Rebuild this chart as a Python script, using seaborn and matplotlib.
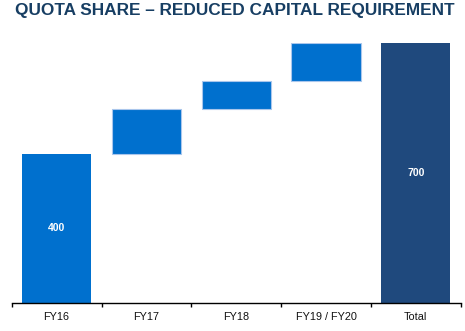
import matplotlib
matplotlib.use("Agg")
import matplotlib.pyplot as plt
import seaborn as sns
import numpy as np

categories = ["FY16", "FY17", "FY18", "FY19 / FY20", "Total"]
increments = [400, 122, 75, 103]
total = 700
bar_labels = {"FY16": "400", "Total": "700"}

heights = increments + [total]
bottoms = list(np.concatenate([[0], np.cumsum(increments)[:-1]])) + [0]

blue = "#0070CE"
navy = "#1F497D"
title_color = "#173E63"

sns.set_theme(style="white")
plt.rcParams["font.family"] = ["Liberation Sans", "DejaVu Sans"]

W, H = 465, 331
fig = plt.figure(figsize=(W / 100, H / 100), dpi=100)
x0, x1 = 11.7, 460.7
ybase, ytop = 302.5, 43.0
ax = fig.add_axes([x0 / W, 1 - ybase / H, (x1 - x0) / W, (ybase - ytop) / H])

sns.barplot(x=categories, y=heights, bottom=bottoms, color=blue, width=0.77,
            saturation=1, ax=ax)

for i, p in enumerate(ax.patches):
    if categories[i] == "Total":
        p.set_facecolor(navy)
        p.set_edgecolor(navy)
        p.set_linewidth(0)
    elif bottoms[i] > 0:
        p.set_facecolor(blue)
        p.set_edgecolor("#A9C6EC")
        p.set_linewidth(0.8)
    else:
        p.set_facecolor(blue)
        p.set_linewidth(0)

for i, c in enumerate(categories):
    if c in bar_labels:
        ax.text(i, bottoms[i] + heights[i] / 2, bar_labels[c], ha="center", va="center",
                color="white", fontsize=7.5, fontweight="bold")

ax.set_xlim(-0.5, len(categories) - 0.5)
ax.set_ylim(0, total)
ax.set_yticks([])
ax.set_ylabel("")
for s in ["top", "right", "left"]:
    ax.spines[s].set_visible(False)
ax.spines["bottom"].set_color("black")
ax.spines["bottom"].set_linewidth(1.0)
ax.set_xticks(np.arange(-0.5, len(categories) + 0.5, 1), minor=True)
ax.tick_params(axis="x", which="minor", bottom=True, length=3, width=1, color="black", direction="out")
ax.tick_params(axis="x", which="major", bottom=False, length=0, pad=6.5, labelsize=7.8, labelcolor="#111111")

fig.text(15 / W, 1 - 2.5 / H, "QUOTA SHARE \u2013 REDUCED CAPITAL REQUIREMENT", ha="left", va="top",
         fontsize=12.4, fontweight="bold", color=title_color)

fig.savefig("out.png", dpi=100)
